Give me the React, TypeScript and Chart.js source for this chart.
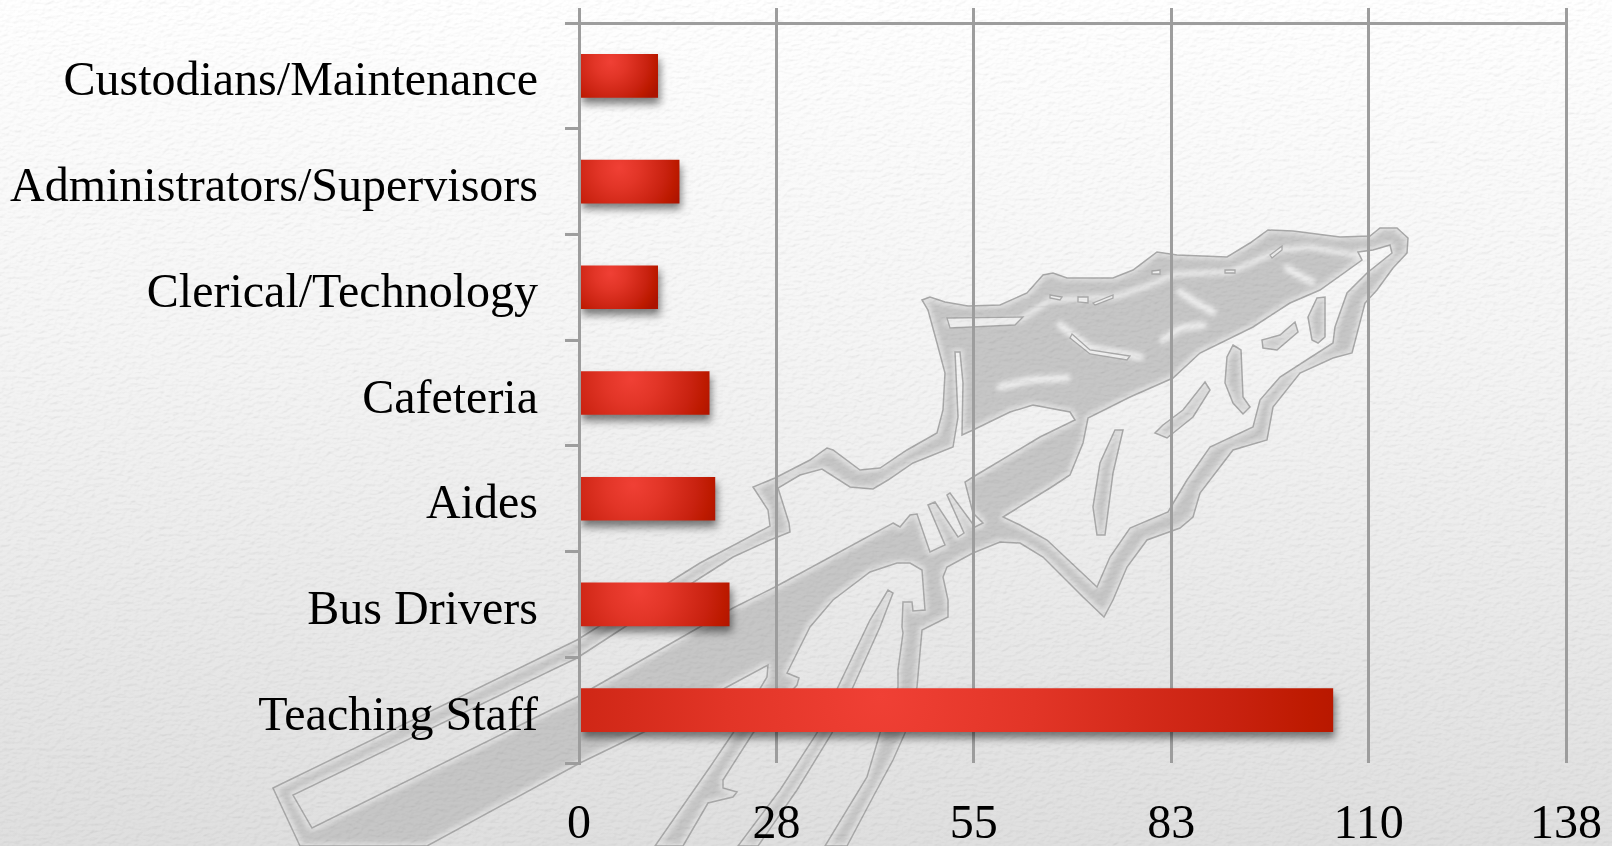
import React, { useEffect, useRef } from "react";
import { Chart, registerables } from "chart.js";

Chart.register(...registerables);

const categories = ["Custodians/Maintenance", "Administrators/Supervisors", "Clerical/Technology", "Cafeteria", "Aides", "Bus Drivers", "Teaching Staff"];
const staffCounts = [11, 14, 11, 18.2, 19, 21, 105.4];
const axisMax = 138;
const axisStep = 27.6;

// Decorative watermark outlines (background art, not chart data)
const outerShape = "273,788 577,640 700,563 770,526 768,510 753,487 775,478 810,460 827,448 833,450 860,470 880,468 907,450 937,433 943,410 945,373 937,343 928,310 922,300 930,297 945,302 968,306 1000,305 1027,293 1043,275 1053,273 1067,278 1113,278 1133,270 1157,252 1177,255 1227,257 1250,243 1268,230 1293,231 1340,237 1370,236 1380,228 1397,228 1408,238 1407,253 1393,268 1377,290 1365,303 1352,353 1333,358 1300,373 1273,407 1267,440 1233,450 1200,493 1193,517 1180,528 1147,540 1127,567 1113,600 1104,617 1083,597 1043,557 1020,543 1000,542 973,553 947,567 943,577 948,600 948,617 922,630 917,687 905,733 893,760 873,797 847,846 825,846 867,777 880,733 898,687 898,670 903,633 902,627 903,602 912,602 913,611 925,610 922,570 910,563 897,563 870,572 833,600 810,627 790,667 787,673 799,678 797,685 753,733 723,780 723,788 737,792 733,797 708,803 683,846 655,846 680,810 710,767 733,733 767,677 768,665 727,687 644,732 580,763 427,846 300,846";
const rightHole = "1358,252 1373,250 1390,245 1392,253 1367,273 1347,293 1335,327 1333,343 1280,377 1260,400 1253,427 1210,447 1187,480 1168,512 1130,528 1110,557 1097,587 1047,540 1020,525 1003,517 1050,488 1070,475 1083,443 1088,418 1130,397 1173,378 1200,353 1253,327 1290,303 1320,290 1362,260";
const shaftHole = "893,523 900,527 910,515 917,514 930,552 945,545 928,505 935,502 958,537 964,533 947,495 950,493 975,527 983,523 973,513 965,482 973,477 1040,437 1075,420 1070,412 1033,405 1010,412 973,430 962,435 963,383 960,352 955,352 958,417 953,447 913,463 888,480 873,489 850,487 822,469 800,475 778,488 789,523 790,532 770,540 733,557 700,578 577,658 293,795 312,828 577,697 733,608 775,587";
const islands = [
  "1317,298 1325,297 1325,337 1318,343 1312,340 1308,317",
  "1295,322 1298,332 1277,350 1263,348 1262,340 1280,335",
  "1233,345 1241,350 1243,397 1250,407 1243,414 1233,403 1225,383 1227,357",
  "1205,382 1210,390 1193,417 1167,438 1155,433 1163,425 1183,410",
  "1115,430 1123,430 1113,473 1105,535 1097,535 1093,507 1100,463",
  "893,593 880,627 853,687 832,733 797,790 758,846 738,846 780,790 817,733 838,687 870,620 888,590",
];
const slits = [
  "947,318 1023,317 1015,325 950,328",
  "1050,295 1062,297 1060,300 1050,298",
  "1078,297 1088,297 1088,303 1078,302",
  "1093,303 1113,295 1113,298 1095,305",
  "1152,271 1160,270 1160,274 1152,274",
  "1225,270 1235,270 1235,273 1225,273",
  "1270,255 1282,246 1282,250 1272,258",
  "1072,334 1090,350 1130,356 1127,360 1090,354 1070,338",
];
const highlights = [
  "1000,387 1030,380 1067,378",
  "1060,325 1090,348 1140,357",
  "1163,340 1180,328 1203,325",
  "1180,292 1195,302 1213,312",
  "1287,268 1300,276 1312,282",
  "947,323 1020,320 1050,300 1115,297 1150,285 1175,274 1230,272 1280,250 1310,247 1360,256",
];

const toPath = (pts: string) => "M" + pts.trim().split(" ").join("L") + "Z";
const logoPath = [outerShape, rightHole, shaftHole, ...islands].map(toPath).join("");

const barShadow = {
  id: "barShadow",
  beforeDatasetDraw(chart: any) {
    const c = chart.ctx;
    c.save();
    c.shadowColor = "rgba(0,0,0,0.5)";
    c.shadowBlur = 8;
    c.shadowOffsetX = 2;
    c.shadowOffsetY = 6;
  },
  afterDatasetDraw(chart: any) {
    chart.ctx.restore();
  },
};

const barFill = (ctx: any) => {
  const fallback = "#cc2010";
  if (ctx.raw === undefined || ctx.raw === null) return fallback;
  const { chart, dataIndex, raw } = ctx;
  const sx = chart.scales.x;
  const sy = chart.scales.y;
  if (!sx || !sy) return fallback;
  const x0 = sx.getPixelForValue(0);
  const w = sx.getPixelForValue(raw) - x0;
  const cx = x0 + w * 0.4;
  const cy = sy.getPixelForValue(dataIndex) - 14;
  if (![x0, w, cx, cy].every(Number.isFinite) || w <= 0) return fallback;
  const g = chart.ctx.createRadialGradient(cx, cy, 0, cx, cy, Math.max(w * 0.68, 40));
  g.addColorStop(0, "#f04035");
  g.addColorStop(0.3, "#e23527");
  g.addColorStop(0.68, "#c92210");
  g.addColorStop(0.84, "#bd1a00");
  g.addColorStop(1, "#ac1300");
  return g;
};

const gridGray = "#9d9d9d";
const labelFont = { family: "'Liberation Serif', 'Times New Roman', serif", size: 48 };
const noPad = (s: any) => {
  s.paddingLeft = 0;
  s.paddingRight = 0;
  s.paddingTop = 0;
  s.paddingBottom = 0;
};

export default function App() {
  const ref = useRef<HTMLCanvasElement | null>(null);
  useEffect(() => {
    if (!ref.current) return;
    const chart = new Chart(ref.current, {
      type: "bar",
      plugins: [barShadow],
      data: {
        labels: categories,
        datasets: [
          { label: "Staff", data: staffCounts, backgroundColor: barFill, barThickness: 43, xAxisID: "x", yAxisID: "y" },
        ],
      },
      options: {
        indexAxis: "y",
        animation: false,
        responsive: false,
        layout: { padding: { top: 0, right: 46, bottom: 0, left: 0 } },
        plugins: { legend: { display: false }, tooltip: { enabled: false }, title: { display: false } },
        scales: {
          x: {
            type: "linear",
            position: "top",
            min: 0,
            max: axisMax,
            ticks: { stepSize: axisStep, display: false },
            grid: { color: gridGray, lineWidth: 3, drawTicks: true, tickLength: 15, tickColor: gridGray },
            border: { color: gridGray, width: 3 },
            afterFit: (s: any) => { s.height = 23; noPad(s); },
          },
          xb: {
            type: "linear",
            axis: "x",
            position: "bottom",
            min: 0,
            max: axisMax,
            ticks: {
              stepSize: axisStep,
              color: "#000",
              font: labelFont,
              padding: 34,
              maxRotation: 0,
              callback: (v: any) => String(Math.round(Number(v))),
            },
            grid: { display: false, drawTicks: false },
            border: { display: false },
            afterFit: (s: any) => { s.height = 83; noPad(s); },
          },
          y: {
            type: "category",
            position: "left",
            offset: true,
            ticks: { color: "#000", font: labelFont, padding: 27, labelOffset: 7, autoSkip: false },
            grid: { offset: true, drawOnChartArea: false, color: gridGray, lineWidth: 3, tickLength: 14, tickColor: gridGray },
            border: { color: gridGray, width: 3, z: 1 },
            afterFit: (s: any) => { s.width = 579; noPad(s); },
          },
        },
      } as any,
    });
    return () => chart.destroy();
  }, []);

  return (
    <div style={{ position: "fixed", left: 0, top: 0, width: 1612, height: 846, overflow: "hidden", background: "linear-gradient(180deg,#ffffff 0%,#f5f5f5 40%,#dfdfdf 100%)" }}>
      <svg width={1612} height={846} style={{ position: "absolute", left: 0, top: 0 }}>
        <defs>
          <filter id="core" x="-5%" y="-5%" width="110%" height="110%">
            <feMorphology operator="erode" radius="3" />
            <feGaussianBlur stdDeviation="2" />
          </filter>
          <filter id="soft"><feGaussianBlur stdDeviation="2.5" /></filter>
          <filter id="paper" x="0" y="0" width="100%" height="100%">
            <feTurbulence type="fractalNoise" baseFrequency="0.16 0.28" numOctaves="3" seed="7" />
            <feDiffuseLighting surfaceScale="1.1" diffuseConstant="1.08" lightingColor="#ffffff">
              <feDistantLight azimuth="60" elevation="62" />
            </feDiffuseLighting>
          </filter>
          <clipPath id="logoClip"><path d={logoPath} clipRule="evenodd" /></clipPath>
        </defs>
        <path d={logoPath} fill="#e0e0e0" fillRule="evenodd" />
        <path d={logoPath} fill="#c6c6c6" fillRule="evenodd" filter="url(#core)" />
        <g clipPath="url(#logoClip)" filter="url(#soft)">
          {highlights.map((p, i) => (
            <polyline key={i} points={p} fill="none" stroke="#f0f0f0" strokeWidth={i === 5 ? 5 : 7} strokeLinecap="round" />
          ))}
        </g>
        <path d={logoPath} fill="none" stroke="#a8a8a8" strokeWidth={1.5} />
        {slits.map((p, i) => (
          <polygon key={i} points={p} fill="#eeeeee" stroke="#a8a8a8" strokeWidth={1.3} />
        ))}
        <rect width={1612} height={846} filter="url(#paper)" style={{ mixBlendMode: "multiply" }} opacity={0.3} />
      </svg>
      <canvas ref={ref} width={1612} height={846} style={{ position: "absolute", left: 0, top: 0, display: "block" }} />
    </div>
  );
}
